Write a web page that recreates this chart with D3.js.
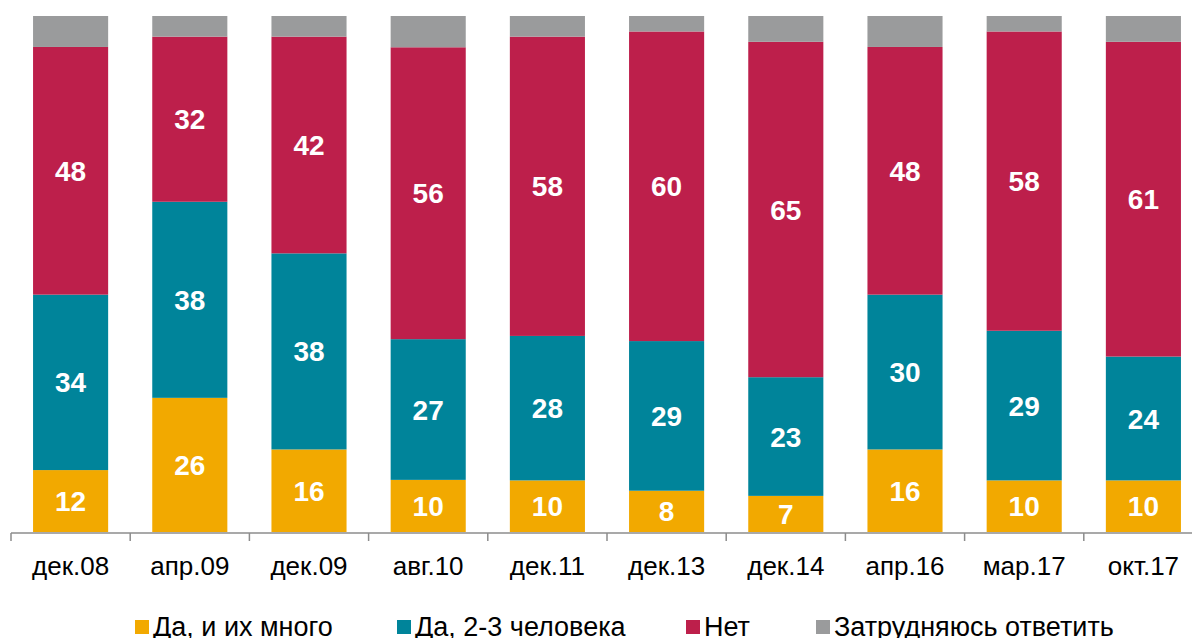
<!DOCTYPE html>
<html>
<head>
<meta charset="utf-8">
<script src="https://cdn.jsdelivr.net/npm/d3@7"></script>
<style>
  body { margin: 0; background: #fff; }
  svg { display: block; font-family: "Liberation Sans", Arial, sans-serif; }
</style>
</head>
<body>
<div id="chart"></div>
<script>
// ---- DATA ----
let categories = ["дек.08", "апр.09", "дек.09", "авг.10", "дек.11", "дек.13", "дек.14", "апр.16", "мар.17", "окт.17"];
let seriesNames = ["Да, и их много", "Да, 2-3 человека", "Нет", "Затрудняюсь ответить"];
let yesMany = [12, 26, 16, 10, 10, 8, 7, 16, 10, 10];
let yesFew = [34, 38, 38, 27, 28, 29, 23, 30, 29, 24];
let no = [48, 32, 42, 56, 58, 60, 65, 48, 58, 61];
let hard = [6, 4, 4, 6, 4, 3, 5, 6, 3, 5];
let colors = ["#F2A900", "#00849A", "#BD1F4B", "#9A9B9C"];

// CHART AREA
let width = 1192, height = 638;
let plotTop = 16, plotBottom = 532;

let svg = d3.select("#chart").append("svg")
    .attr("width", width)
    .attr("height", height);

let keys = ["yesMany", "yesFew", "no", "hard"];
let data = categories.map((c, i) => ({
    cat: c, yesMany: yesMany[i], yesFew: yesFew[i], no: no[i], hard: hard[i]
}));

let stack = d3.stack().keys(keys).offset(d3.stackOffsetExpand);
let layers = stack(data);

// AXIS
let x = d3.scaleBand()
    .domain(categories)
    .range([11, 11 + 119.2 * categories.length])
    .padding(0);

let y = d3.scaleLinear()
    .domain([0, 1])
    .range([plotBottom, plotTop]);

let barW = x.bandwidth() * 0.63;

// ---- DRAW BARS ----
let groups = svg.selectAll(".layer")
    .data(layers)
    .enter().append("g")
    .attr("class", "layer")
    .attr("fill", (d, i) => colors[i]);

groups.selectAll("rect")
    .data(d => d)
    .enter().append("rect")
    .attr("x", d => x(d.data.cat) + (x.bandwidth() - barW) / 2)
    .attr("y", d => y(d[1]))
    .attr("width", barW)
    .attr("height", d => y(d[0]) - y(d[1]));

// value labels (not for the grey part)
layers.slice(0, 3).forEach((layer, li) => {
    svg.append("g").selectAll("text")
        .data(layer)
        .enter().append("text")
        .attr("x", d => x(d.data.cat) + x.bandwidth() / 2)
        .attr("y", d => (y(d[0]) + y(d[1])) / 2)
        .attr("dy", "0.36em")
        .attr("text-anchor", "middle")
        .attr("fill", "#fff")
        .attr("font-weight", "bold")
        .attr("font-size", "28px")
        .text(d => d.data[keys[li]]);
});

// ---- DRAW AXIS ----
let xAxis = d3.axisBottom(x).tickSize(0).tickPadding(0);
let axisG = svg.append("g")
    .attr("transform", "translate(0," + (plotBottom + 1) + ")")
    .call(xAxis);
axisG.select(".domain").remove();
axisG.append("line")
    .attr("x1", 11).attr("x2", width)
    .attr("stroke", "#8c8c8c").attr("stroke-width", 1.5);
axisG.selectAll(".sep")
    .data(categories)
    .enter().append("line")
    .attr("class", "sep")
    .attr("x1", d => x(d)).attr("x2", d => x(d))
    .attr("y1", 0).attr("y2", 8)
    .attr("stroke", "#8c8c8c").attr("stroke-width", 1.5);
axisG.selectAll(".tick text")
    .attr("y", 33)
    .attr("dy", "0.36em")
    .attr("fill", "#000")
    .attr("font-size", "26px")
    .attr("font-family", "\"Liberation Sans\", Arial, sans-serif");

// ---- LEGEND ----
let legendX = [135, 397, 686, 816];
let legend = svg.append("g");
seriesNames.forEach((name, i) => {
    legend.append("rect")
        .attr("x", legendX[i]).attr("y", 620)
        .attr("width", 14).attr("height", 14)
        .attr("fill", colors[i]);
    legend.append("text")
        .attr("x", legendX[i] + 18).attr("y", 636)
        .attr("font-size", "27px")
        .attr("fill", "#000")
        .text(name);
});
</script>
</body>
</html>
